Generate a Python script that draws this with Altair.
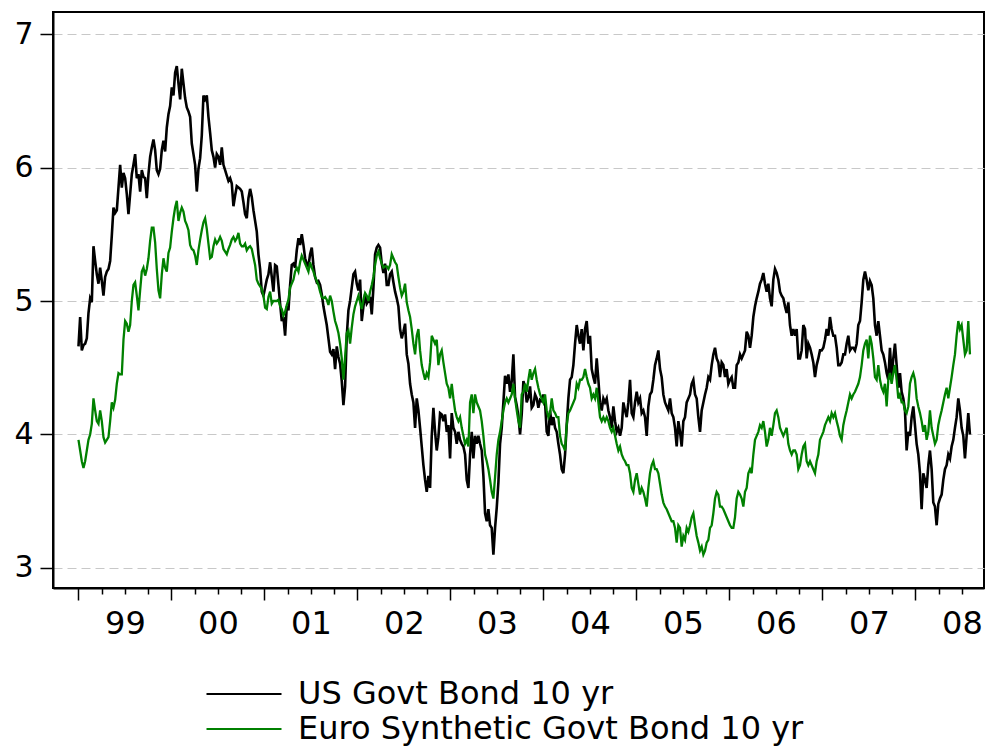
import altair as alt
import numpy as np
import pandas as pd

# Daily-close 10-year yields, sampled at regular intervals from Jan 1999 to Aug 2008 (percent)
us_yield = [
    4.66, 4.88, 4.63, 4.67, 4.68, 4.72, 4.91, 5.02, 4.99, 5.41,
    5.30, 5.20, 5.13, 5.25, 5.15, 5.04, 5.18, 5.22, 5.24, 5.30,
    5.49, 5.70, 5.66, 5.68, 5.85, 6.02, 5.85, 5.96, 5.92, 5.80,
    5.65, 5.80, 5.95, 6.02, 6.10, 5.92, 5.95, 5.82, 5.98, 5.93,
    5.92, 5.77, 5.95, 6.08, 6.15, 6.21, 6.13, 5.98, 5.95, 5.99,
    6.13, 6.20, 6.12, 6.30, 6.40, 6.46, 6.60, 6.54, 6.71, 6.76,
    6.63, 6.51, 6.74, 6.63, 6.52, 6.45, 6.42, 6.38, 6.18, 6.10,
    6.02, 5.82, 5.99, 6.07, 6.24, 6.54, 6.51, 6.54, 6.38, 6.26,
    6.13, 6.08, 6.00, 6.10, 6.08, 6.02, 6.15, 6.02, 5.98, 5.94,
    5.90,
    5.92, 5.88, 5.71, 5.79, 5.86, 5.85, 5.84, 5.82, 5.74, 5.65,
    5.62, 5.77, 5.84, 5.78, 5.68, 5.60, 5.52, 5.35, 5.24, 5.07,
    5.04, 5.10, 5.16, 5.20, 5.29, 5.18, 5.07, 5.27, 5.26, 5.12,
    4.98, 4.85, 4.88, 4.74, 4.96, 4.93, 5.12, 5.27, 5.28, 5.25,
    5.38, 5.47, 5.42, 5.50, 5.42, 5.32, 5.28, 5.26, 5.35, 5.40,
    5.27, 5.18, 5.14, 5.15, 5.12, 5.05, 4.96, 4.89, 4.82, 4.72,
    4.62, 4.60, 4.64, 4.49, 4.66, 4.58, 4.53, 4.40, 4.22, 4.36,
    4.74, 4.93, 5.00, 5.10, 5.20, 5.22, 5.13, 5.08, 5.16, 4.85,
    4.96, 5.05, 4.98, 5.00, 5.03, 4.90, 5.10, 5.35, 5.40, 5.42,
    5.40, 5.28, 5.21, 5.28, 5.12,
    5.12, 5.20, 5.22, 5.14, 5.07, 5.02, 4.96, 4.79, 4.72, 4.77,
    4.83, 4.60, 4.53, 4.38, 4.30, 4.24, 4.05, 4.27, 4.18, 4.05,
    3.91, 3.77, 3.66, 3.57, 3.69, 3.60, 3.99, 4.20, 4.02, 3.88,
    3.98, 4.16, 4.15, 4.10, 4.15, 4.02, 4.07, 3.82, 4.16, 4.05,
    4.02, 3.93, 4.02, 3.96, 3.93, 3.91, 3.85, 3.66, 3.60, 3.85,
    4.02, 3.82, 3.99, 3.93, 3.99, 3.93, 3.88, 3.69, 3.41, 3.35,
    3.44, 3.32, 3.30, 3.10, 3.30, 3.45, 3.64, 3.93, 4.05, 4.24,
    4.44, 4.38, 4.45, 4.32, 4.40, 4.60, 4.28, 4.22, 4.14, 4.00,
    4.15, 4.40, 4.36, 4.24, 4.28, 4.36, 4.20, 4.22, 4.30, 4.27,
    4.20, 4.26, 4.25, 4.30, 4.24, 4.02,
    3.99, 4.18, 4.07, 4.13, 4.05, 4.02, 3.93, 3.85, 3.74, 3.71,
    3.85, 4.07, 4.27, 4.41, 4.43, 4.52, 4.68, 4.82, 4.74, 4.68,
    4.79, 4.63, 4.79, 4.85, 4.68, 4.74, 4.49, 4.43, 4.38, 4.57,
    4.41, 4.24, 4.18, 4.27, 4.24, 4.27, 4.18, 4.13, 4.05, 4.21,
    4.10, 4.02, 4.05, 3.99, 4.05, 4.24, 4.18, 4.13, 4.24, 4.41,
    4.16, 4.13, 4.24, 4.32, 4.24, 4.27, 4.16, 4.18, 4.13, 3.99,
    4.21, 4.30, 4.32, 4.41, 4.52, 4.57, 4.63, 4.49, 4.43, 4.30,
    4.24, 4.21, 4.18, 4.27, 4.16, 4.13, 4.05, 3.91, 4.10, 4.02,
    3.91, 4.10, 4.13, 4.24, 4.27, 4.30, 4.38, 4.41, 4.30, 4.27,
    4.13, 4.02, 4.18, 4.24, 4.30, 4.35,
    4.43, 4.41, 4.52, 4.60, 4.65, 4.57, 4.54, 4.43, 4.54, 4.52,
    4.43, 4.49, 4.38, 4.41, 4.43, 4.35, 4.35, 4.52, 4.54, 4.60,
    4.57, 4.60, 4.63, 4.77, 4.74, 4.65, 4.74, 4.88, 4.96, 5.02,
    5.07, 5.13, 5.16, 5.21, 5.13, 5.07, 5.13, 5.02, 4.96, 5.16,
    5.24, 5.21, 5.16, 5.07, 5.04, 5.02, 4.96, 4.91, 4.99, 4.82,
    4.74, 4.79, 4.74, 4.79, 4.57, 4.57, 4.63, 4.82, 4.79, 4.57,
    4.68, 4.65, 4.60, 4.54, 4.43, 4.52, 4.57, 4.63, 4.63, 4.65,
    4.71, 4.79, 4.74, 4.88, 4.79, 4.74, 4.74, 4.65, 4.52, 4.52,
    4.54, 4.60, 4.60, 4.68, 4.74, 4.63, 4.65, 4.65, 4.63, 4.68,
    4.82, 4.85, 4.99, 5.16, 5.22, 5.16, 5.08, 5.15, 5.12, 5.02,
    4.82, 4.74, 4.85, 4.74, 4.63, 4.60, 4.54, 4.46, 4.41, 4.65,
    4.43, 4.57, 4.68, 4.52, 4.35, 4.46, 4.32, 4.27, 4.18, 3.88,
    4.02, 3.99, 4.13, 4.21, 4.07, 3.93, 3.85, 3.71, 3.44, 3.71,
    3.66, 3.60, 3.77, 3.88, 3.74, 3.49, 3.46, 3.32, 3.48, 3.52,
    3.55, 3.66, 3.74, 3.77, 3.85, 3.82, 3.91, 3.96, 4.05, 4.13,
    4.27, 4.18, 4.05, 3.99, 3.82, 3.99, 4.16, 4.00,
]

euro_yield = [
    3.96, 3.88, 3.80, 3.75, 3.80, 3.88, 3.96, 4.00, 4.08, 4.27,
    4.18, 4.10, 4.08, 4.18, 4.10, 3.98, 3.94, 3.96, 3.98, 4.10,
    4.24, 4.20, 4.26, 4.38, 4.46, 4.45, 4.45, 4.71, 4.85, 4.83,
    4.77, 4.82, 5.00, 5.12, 5.14, 5.04, 4.93, 5.08, 5.22, 5.25,
    5.19, 5.24, 5.32, 5.45, 5.55, 5.55, 5.44, 5.24, 5.08, 5.02,
    5.20, 5.32, 5.25, 5.22, 5.36, 5.40, 5.52, 5.62, 5.70, 5.75,
    5.60, 5.66, 5.70, 5.67, 5.60, 5.57, 5.53, 5.42, 5.39, 5.38,
    5.34, 5.27, 5.38, 5.46, 5.53, 5.59, 5.62, 5.54, 5.43, 5.32,
    5.33, 5.41, 5.46, 5.43, 5.45, 5.48, 5.45, 5.39, 5.37, 5.35,
    5.39,
    5.42, 5.46, 5.48, 5.45, 5.47, 5.51, 5.43, 5.41, 5.41, 5.43,
    5.38, 5.40, 5.41, 5.39, 5.33, 5.27, 5.16, 5.13, 5.11, 5.09,
    5.04, 4.95, 4.94, 5.03, 5.07, 4.98, 5.00, 5.00, 5.00, 5.01,
    4.96, 4.94, 4.89, 4.92, 4.97, 5.01, 5.10, 5.13, 5.16, 5.22,
    5.25, 5.22, 5.29, 5.34, 5.31, 5.28, 5.25, 5.22, 5.29, 5.25,
    5.22, 5.18, 5.15, 5.12, 5.07, 5.03, 5.02, 5.03, 5.01, 4.97,
    5.04, 5.00, 4.92, 4.85, 4.81, 4.76, 4.68, 4.57, 4.41, 4.58,
    4.76, 4.78, 4.68, 4.80, 4.90, 4.96, 5.00, 5.04, 4.99, 4.94,
    5.01, 5.06, 5.04, 5.00, 5.07, 5.12, 5.18, 5.27, 5.34, 5.37,
    5.32, 5.28, 5.25, 5.26, 5.26,
    5.24, 5.27, 5.35, 5.32, 5.29, 5.27, 5.18, 5.10, 5.04, 5.07,
    5.13, 4.99, 4.93, 4.88, 4.79, 4.68, 4.60, 4.74, 4.79, 4.63,
    4.52, 4.46, 4.41, 4.46, 4.43, 4.54, 4.74, 4.71, 4.68, 4.71,
    4.52, 4.60, 4.63, 4.54, 4.46, 4.38, 4.35, 4.27, 4.38, 4.27,
    4.18, 4.13, 4.10, 4.13, 4.05, 3.99, 3.93, 3.96, 3.91, 4.24,
    4.30, 4.16, 4.30, 4.24, 4.21, 4.18, 4.10, 3.99, 3.85, 3.80,
    3.74, 3.66, 3.57, 3.52, 3.68, 3.85, 3.96, 4.02, 4.10, 4.18,
    4.24, 4.27, 4.24, 4.27, 4.30, 4.38, 4.27, 4.18, 4.10, 4.05,
    4.30, 4.32, 4.38, 4.32, 4.41, 4.49, 4.41, 4.46, 4.49, 4.41,
    4.35, 4.30, 4.27, 4.24, 4.30, 4.18,
    4.13, 4.16, 4.27, 4.18, 4.16, 4.13, 4.13, 3.99, 3.93, 3.91,
    3.88, 4.07, 4.16, 4.18, 4.21, 4.24, 4.27, 4.38, 4.35, 4.41,
    4.41, 4.43, 4.49, 4.43, 4.38, 4.35, 4.27, 4.30, 4.27, 4.35,
    4.24, 4.13, 4.10, 4.13, 4.10, 4.13, 4.10, 4.05, 4.02, 4.05,
    3.99, 3.93, 3.88, 3.91, 3.85, 3.82, 3.80, 3.77, 3.77, 3.71,
    3.60, 3.57, 3.66, 3.71, 3.63, 3.55, 3.60, 3.57, 3.52, 3.46,
    3.60, 3.71, 3.77, 3.80, 3.74, 3.74, 3.71, 3.63, 3.55, 3.49,
    3.46, 3.44, 3.41, 3.38, 3.35, 3.35, 3.30, 3.19, 3.32, 3.30,
    3.16, 3.24, 3.21, 3.30, 3.27, 3.32, 3.38, 3.41, 3.32, 3.24,
    3.19, 3.13, 3.16, 3.10, 3.13, 3.19,
    3.21, 3.30, 3.32, 3.41, 3.52, 3.57, 3.55, 3.46, 3.46, 3.44,
    3.41, 3.38, 3.35, 3.32, 3.30, 3.30, 3.38, 3.52, 3.57, 3.55,
    3.52, 3.46, 3.57, 3.60, 3.71, 3.74, 3.71, 3.85, 3.96, 3.99,
    4.02, 4.07, 4.05, 4.10, 4.02, 3.91, 3.96, 4.05, 3.99, 4.07,
    4.16, 4.18, 4.13, 4.05, 4.02, 3.99, 4.02, 4.05, 3.93, 3.88,
    3.85, 3.88, 3.88, 3.85, 3.74, 3.77, 3.85, 3.91, 3.93, 3.80,
    3.77, 3.80, 3.77, 3.74, 3.71, 3.80, 3.85, 3.96, 3.99, 4.02,
    4.07, 4.10, 4.13, 4.10, 4.16, 4.13, 4.16, 4.10, 4.05, 3.99,
    3.96, 4.07, 4.13, 4.18, 4.24, 4.30, 4.27, 4.30, 4.32, 4.35,
    4.38, 4.43, 4.52, 4.63, 4.68, 4.71, 4.57, 4.74, 4.68, 4.57,
    4.43, 4.41, 4.52, 4.41, 4.35, 4.32, 4.38, 4.21, 4.41, 4.46,
    4.38, 4.46, 4.52, 4.41, 4.27, 4.30, 4.24, 4.24, 4.18, 4.16,
    4.21, 4.38, 4.43, 4.46, 4.41, 4.27, 4.21, 4.16, 4.10, 4.02,
    4.07, 3.96, 4.02, 4.18, 4.05, 3.99, 3.93, 3.96, 4.07, 4.13,
    4.18, 4.24, 4.30, 4.35, 4.27, 4.35, 4.43, 4.52, 4.60, 4.74,
    4.85, 4.79, 4.82, 4.71, 4.60, 4.63, 4.85, 4.60,
]

series_names = ["US Govt Bond 10 yr", "Euro Synthetic Govt Bond 10 yr"]
series_colors = ["#000000", "#008000"]

# Observation window in decimal years (first and last sample)
first_obs, last_obs = 1999.0, 2008.586

year_ticks = list(range(1999, 2009))
quarter_ticks = [y + q / 4 for y in range(1999, 2009) for q in (1, 2, 3) if y + q / 4 <= 2008.5]
yield_ticks = [3, 4, 5, 6, 7]

x_domain = [1998.726, 2008.737]
y_domain = [2.85, 7.165]

FONT = "DejaVu Sans"

frames = []
for name, vals in zip(series_names, [us_yield, euro_yield]):
    frames.append(pd.DataFrame({
        "year": np.linspace(first_obs, last_obs, len(vals)),
        "yield": vals,
        "series": name,
    }))
df = pd.concat(frames, ignore_index=True)

x_scale = alt.Scale(domain=x_domain, nice=False, zero=False)
y_scale = alt.Scale(domain=y_domain, nice=False, zero=False)
color_scale = alt.Scale(domain=series_names, range=series_colors)

year_axis = alt.Axis(
    values=year_ticks, orient="bottom", title=None, grid=False,
    tickSize=12, tickColor="black", tickWidth=1.5,
    domainColor="black", domainWidth=2,
    labelExpr="substring(toString(datum.value), 2, 4)",
    labelOffset=46.5, labelPadding=8, labelFont=FONT, labelFontSize=32,
    labelColor="black", labelOverlap=False, labelFlush=False,
)
quarter_axis = alt.Axis(
    values=quarter_ticks, orient="bottom", title=None, grid=False,
    tickSize=6, tickColor="black", tickWidth=1.5,
    labels=False, domain=False,
)
y_axis = alt.Axis(
    values=yield_ticks, title=None, grid=True,
    gridColor="#c8c8c8", gridDash=[9, 5], gridWidth=1,
    tickSize=13, tickColor="black", tickWidth=1.5,
    domainColor="black", domainWidth=2,
    labelPadding=7, labelFont=FONT, labelFontSize=30, labelColor="black",
)
legend = alt.Legend(
    orient="none", legendX=175, legendY=666, direction="vertical",
    title=None, symbolType="M-3,0H3", symbolSize=625, symbolStrokeWidth=2,
    labelFont=FONT, labelFontSize=32, labelColor="black",
    labelOffset=38, labelLimit=0, rowPadding=3, padding=0,
)

color = alt.Color("series:N", scale=color_scale, legend=legend)

us_line = alt.Chart(df).transform_filter(
    alt.datum.series == series_names[0]
).mark_line(strokeWidth=2.6).encode(
    x=alt.X("year:Q", scale=x_scale, axis=year_axis),
    y=alt.Y("yield:Q", scale=y_scale, axis=y_axis),
    color=color,
)

euro_line = alt.Chart(df).transform_filter(
    alt.datum.series == series_names[1]
).mark_line(strokeWidth=2.3).encode(
    x=alt.X("year:Q", scale=x_scale, axis=quarter_axis),
    y=alt.Y("yield:Q", scale=y_scale, axis=y_axis),
    color=color,
)

chart = alt.layer(us_line, euro_line).resolve_axis(x="independent").properties(
    width=931,
    height=576,
    padding={"left": 53, "top": 12, "right": 1, "bottom": 161},
    autosize=alt.AutoSizeParams(type="none"),
    background="white",
).configure_view(stroke="black", strokeWidth=2)

chart.save("out.html", embed_options={"renderer": "svg", "actions": False})
